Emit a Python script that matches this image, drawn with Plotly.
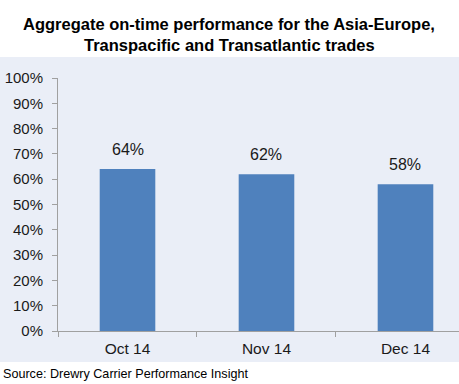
import plotly.graph_objects as go

categories = ["Oct 14", "Nov 14", "Dec 14"]
values = [0.64, 0.62, 0.58]
labels = ["64%", "62%", "58%"]
y_ticks = [0, 0.1, 0.2, 0.3, 0.4, 0.5, 0.6, 0.7, 0.8, 0.9, 1.0]
y_tick_text = ["0%", "10%", "20%", "30%", "40%", "50%", "60%", "70%", "80%", "90%", "100%"]

BG = "#EAEEF7"
BAR = "#4F81BD"
AXIS = "#A0A0A0"
FONT = "Liberation Sans, Arial, sans-serif"

W, H = 459, 384
L, R, T, B = 58, 0, 78, 53
pw = W - L - R
ph = H - T - B

def px_x(x):
    return (x - L) / pw

def px_y(y):
    return (H - B - y) / ph

fig = go.Figure(go.Bar(
    x=categories, y=values,
    marker=dict(color=BAR, line=dict(width=0)),
    width=0.4,
))

for c, v, t in zip(categories, values, labels):
    fig.add_annotation(x=c, y=v, text=t, showarrow=False, yshift=20,
                       xanchor="center", yanchor="middle",
                       font=dict(family=FONT, size=16, color="#1a1a1a"))

fig.add_shape(type="rect", xref="paper", yref="paper",
              x0=px_x(0), x1=px_x(W), y0=px_y(362), y1=px_y(57),
              fillcolor=BG, line=dict(width=0), layer="below")

fig.add_annotation(text="<b>Aggregate on-time performance for the Asia-Europe,</b>",
                   xref="paper", yref="paper", x=px_x(229), y=px_y(24),
                   xanchor="center", yanchor="middle", showarrow=False,
                   font=dict(family=FONT, size=16.5, color="#000000"))
fig.add_annotation(text="<b>Transpacific and Transatlantic trades</b>",
                   xref="paper", yref="paper", x=px_x(229), y=px_y(45),
                   xanchor="center", yanchor="middle", showarrow=False,
                   font=dict(family=FONT, size=16.5, color="#000000"))
fig.add_annotation(text="Source: Drewry Carrier Performance Insight",
                   xref="paper", yref="paper", x=px_x(1), y=px_y(374),
                   xanchor="left", yanchor="middle", showarrow=False,
                   font=dict(family=FONT, size=12.6, color="#000000"))

fig.update_layout(
    width=W, height=H,
    margin=dict(l=L, r=R, t=T, b=B, pad=0, autoexpand=False),
    paper_bgcolor="white", plot_bgcolor=BG,
    showlegend=False,
    xaxis=dict(type="category", range=[-0.5, 2.385], showline=True, linecolor=AXIS,
               linewidth=1, ticks="outside", tickson="boundaries", ticklen=5,
               tickcolor=AXIS, showgrid=False, zeroline=False, automargin=False,
               ticklabelstandoff=3,
               tickfont=dict(family=FONT, size=15.5, color="#1a1a1a")),
    yaxis=dict(range=[0, 1], tickvals=y_ticks, ticktext=y_tick_text, showline=True,
               linecolor=AXIS, linewidth=1, ticks="outside", ticklen=5, tickcolor=AXIS,
               showgrid=False, zeroline=False, automargin=False,
               ticklabelstandoff=6,
               tickfont=dict(family=FONT, size=15, color="#1a1a1a")),
)

fig.write_html("out.html", config={"displayModeBar": False},
               post_script="document.body.style.margin='0';document.body.style.padding='0';document.body.style.overflow='hidden';")
